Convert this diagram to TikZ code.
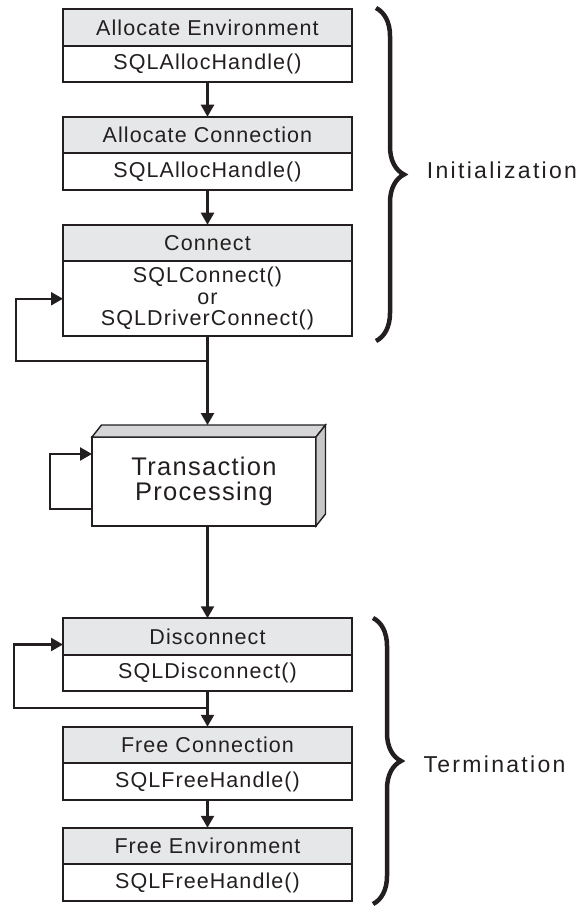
\documentclass[tikz,border=0pt]{standalone}
\usepackage{fontspec}
\setmainfont{Liberation Sans}
\newfontfamily\boxfont[LetterSpace=5]{Liberation Sans}
\newfontfamily\lblfont[LetterSpace=10]{Liberation Sans}
\definecolor{hdr_c}{rgb}{
	0.902, 0.906, 0.910
	}
\definecolor{ink_c}{rgb}{
	0.137, 0.122, 0.125
	}
\definecolor{top_c}{rgb}{
	0.84, 0.84, 0.85
	}
\definecolor{side_c}{rgb}{
	0.78, 0.78, 0.79
	}
\usetikzlibrary{arrows.meta,
                calc,
                positioning,
                decorations.pathreplacing}

\begin{document}
\begin{tikzpicture}[
			x=1pt, y=-1pt,
			color=ink_c,
			line width=2.3pt,
			hdr/.style = {draw, fill=hdr_c, outer sep=0pt, inner sep=0pt,
				minimum width=289pt, minimum height=36.5pt,
				font=\boxfont\fontsize{21.5}{21.5}\selectfont},
			body/.style = {hdr, fill=white, align=center},
			tpbox/.style = {draw, fill=white, line width=1.4pt, outer sep=0pt,
				minimum width=224pt, minimum height=89pt, align=center,
				font=\boxfont\fontsize{25.5}{24.5}\selectfont},
			brc/.style = {decorate, decoration={brace, amplitude=28pt}, line width=4.5pt},
			lbl/.style = {font=\lblfont\fontsize{23}{23}\selectfont},
			arr/.style = {-{Triangle[length=12pt,width=13pt]}},
			]
			\useasboundingbox (0,0) rectangle (585,909);
			% initialization
			\node[hdr] (envH) at (207.5,27.5) {Allocate Environment};
			\node[body, below=0pt of envH] (envB) {SQLAllocHandle()};
			\node[hdr] (conH) at (207.5,135) {Allocate Connection};
			\node[body, below=0pt of conH] (conB) {SQLAllocHandle()};
			\node[hdr] (cnH) at (207.5,243) {Connect};
			\node[body, below=0pt of cnH, minimum height=75pt] (cnB) {SQLConnect()\\or\\SQLDriverConnect()};
			% transaction box
			\node[tpbox] (tp) at (204,481.5) {Transaction\\Processing};
			\filldraw[fill=top_c, line width=1.4pt] (tp.north west) -- ++(9.5,-12) -- ($(tp.north east)+(9.5,-12)$) -- (tp.north east) -- cycle;
			\filldraw[fill=side_c, line width=1.4pt] (tp.north east) -- ++(9.5,-12) -- ($(tp.south east)+(9.5,-12)$) -- (tp.south east) -- cycle;
			% termination
			\node[hdr] (disH) at (207.5,636.5) {Disconnect};
			\node[body, below=0pt of disH] (disB) {SQLDisconnect()};
			\node[hdr] (fcH) at (207.5,745) {Free Connection};
			\node[body, below=0pt of fcH] (fcB) {SQLFreeHandle()};
			\node[hdr] (feH) at (207.5,846) {Free Environment};
			\node[body, below=0pt of feH] (feB) {SQLFreeHandle()};
			% braces
			\coordinate (ib1) at (376,8);
			\coordinate (ib2) at (376,341);
			\coordinate (tb1) at (373,618);
			\coordinate (tb2) at (373,904);
			\draw[brc] (ib1) -- (ib2);
			\draw[brc] (tb1) -- (tb2);
			\node[lbl] (init) at (502,170) {Initialization};
			\node[lbl] (term) at (494.5,764.5) {Termination};
			% edges
			\coordinate (j1) at ($(cnB.south)+(0,25)$);
			\coordinate (j2) at ($(disB.south)+(0,17)$);
			\coordinate (tptop) at ($(tp.north)+(4,-12)$);
			\draw[arr] (envB.south) -- (conH.north);
			\draw[arr] (conB.south) -- (cnH.north);
			\draw[arr] (cnB.south) -- (cnB.south |- tptop);
			\draw[arr] (j1) -| ($(cnB.west)+(-47,0)$) -- (cnB.west);
			\draw[arr] ($(tp.west)+(0,27.5)$) -| ($(tp.west)+(-42,-27.5)$) -- ($(tp.west)+(0,-27.5)$);
			\draw[arr] (tp.south -| disH.north) -- (disH.north);
			\draw[arr] (disB.south) -- (fcH.north);
			\draw[arr] (j2) -| ($(disH.west)+(-49,8)$) -- ($(disH.west)+(0,8)$);
			\draw[arr] (fcB.south) -- (feH.north);
		\end{tikzpicture}
\end{document}
